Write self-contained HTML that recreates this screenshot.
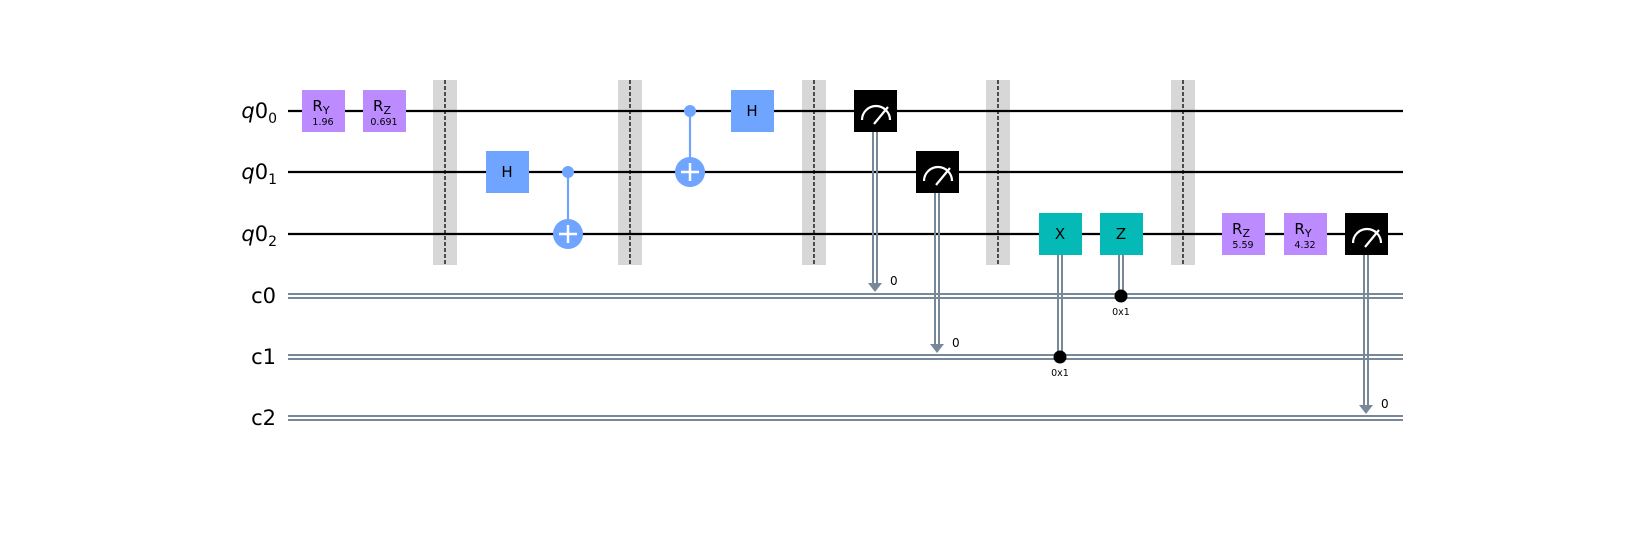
<!DOCTYPE html>
<html><head><meta charset="utf-8"><style>body{margin:0;background:#fff}svg{display:block}</style></head><body>
<svg width="1643" height="535" viewBox="0 0 1643 535" xmlns="http://www.w3.org/2000/svg" font-family="'DejaVu Sans','Liberation Sans',sans-serif">
<rect width="1643" height="535" fill="#fff"/>
<!-- barriers bg -->
<g fill="#d7d7d7">
<rect x="433" y="80" width="24" height="185"/><rect x="618" y="80" width="24" height="185"/>
<rect x="802" y="80" width="24" height="185"/><rect x="986" y="80" width="24" height="185"/>
<rect x="1171" y="80" width="24" height="185"/>
</g>
<!-- quantum wires -->
<g stroke="#000" stroke-width="2.2">
<line x1="288" y1="111" x2="1403" y2="111"/><line x1="288" y1="172" x2="1403" y2="172"/><line x1="288" y1="234" x2="1403" y2="234"/>
</g>
<!-- classical wires -->
<g stroke="#778899" stroke-width="2">
<line x1="288" y1="294" x2="1403" y2="294"/><line x1="288" y1="298" x2="1403" y2="298"/>
<line x1="288" y1="355" x2="1403" y2="355"/><line x1="288" y1="359" x2="1403" y2="359"/>
<line x1="288" y1="416" x2="1403" y2="416"/><line x1="288" y1="420" x2="1403" y2="420"/>
</g>
<!-- barrier dashes -->
<g stroke="#000" stroke-width="1.3" stroke-dasharray="4,2">
<line x1="445" y1="80" x2="445" y2="265"/><line x1="630" y1="80" x2="630" y2="265"/>
<line x1="814" y1="80" x2="814" y2="265"/><line x1="998" y1="80" x2="998" y2="265"/>
<line x1="1183" y1="80" x2="1183" y2="265"/>
</g>
<!-- labels -->
<g font-size="21" text-anchor="end" fill="#000">
<text x="277" y="118"><tspan font-style="italic">q</tspan>0<tspan font-size="14" dy="5">0</tspan></text>
<text x="277" y="179"><tspan font-style="italic">q</tspan>0<tspan font-size="14" dy="5">1</tspan></text>
<text x="277" y="241"><tspan font-style="italic">q</tspan>0<tspan font-size="14" dy="5">2</tspan></text>
<text x="276" y="303">c0</text><text x="276" y="364">c1</text><text x="276" y="425">c2</text>
</g>
<!-- rotation gates -->
<g fill="#bb8bff">
<rect x="302" y="90" width="43" height="42"/><rect x="363" y="90" width="43" height="42"/>
<rect x="1222" y="213" width="43" height="42"/><rect x="1284" y="213" width="43" height="42"/>
</g>
<g font-size="15" text-anchor="middle" fill="#000">
<text x="321" y="111">R<tspan font-size="11" dy="3">Y</tspan></text>
<text x="382" y="111">R<tspan font-size="11" dy="3">Z</tspan></text>
<text x="1241" y="234">R<tspan font-size="11" dy="3">Z</tspan></text>
<text x="1303" y="234">R<tspan font-size="11" dy="3">Y</tspan></text>
</g>
<g font-size="9.5" text-anchor="middle" fill="#000">
<text x="323" y="125">1.96</text><text x="384" y="125">0.691</text>
<text x="1243" y="248">5.59</text><text x="1305" y="248">4.32</text>
</g>
<!-- H gates -->
<rect x="486" y="151" width="43" height="42" fill="#6fa4ff"/>
<rect x="731" y="90" width="43" height="42" fill="#6fa4ff"/>
<g font-size="15" text-anchor="middle" fill="#000">
<text x="507" y="177">H</text><text x="752" y="116">H</text>
</g>
<!-- CX -->
<g stroke="#6fa4ff" stroke-width="2.2"><line x1="568" y1="172" x2="568" y2="234"/><line x1="690" y1="111" x2="690" y2="172"/></g>
<g fill="#6fa4ff"><circle cx="568" cy="172" r="6"/><circle cx="568" cy="234" r="15"/><circle cx="690" cy="111" r="6"/><circle cx="690" cy="172" r="15"/></g>
<g stroke="#fff" stroke-width="2.5"><line x1="559" y1="234" x2="577" y2="234"/><line x1="568" y1="225" x2="568" y2="243"/><line x1="681" y1="172" x2="699" y2="172"/><line x1="690" y1="163" x2="690" y2="181"/></g>
<!-- measure lines -->
<g stroke="#778899" stroke-width="2">
<line x1="873" y1="130" x2="873" y2="284"/><line x1="877" y1="130" x2="877" y2="284"/>
<line x1="935" y1="192" x2="935" y2="345"/><line x1="939" y1="192" x2="939" y2="345"/>
<line x1="1364" y1="253" x2="1364" y2="406"/><line x1="1368" y1="253" x2="1368" y2="406"/>
<line x1="1058" y1="253" x2="1058" y2="357"/><line x1="1062" y1="253" x2="1062" y2="357"/>
<line x1="1119" y1="253" x2="1119" y2="296"/><line x1="1123" y1="253" x2="1123" y2="296"/>
</g>
<g fill="#778899">
<polygon points="868,283 882,283 875,292"/><polygon points="930,344 944,344 937,353"/><polygon points="1359,405 1373,405 1366,414"/>
</g>
<g font-size="12" fill="#000"><text x="890" y="285">0</text><text x="952" y="347">0</text><text x="1381" y="408">0</text></g>
<!-- measure boxes -->
<g>
<rect x="854" y="90" width="43" height="42" fill="#000"/>
<rect x="916" y="151" width="43" height="42" fill="#000"/>
<rect x="1345" y="213" width="43" height="42" fill="#000"/>
</g>
<g stroke="#fff" stroke-width="2.2" fill="none">
<path d="M862,120 A14,14 0 0 1 890,120"/><line x1="874" y1="124" x2="888" y2="107"/>
<path d="M924,181 A14,14 0 0 1 952,181"/><line x1="936" y1="185" x2="950" y2="168"/>
<path d="M1353,243 A14,14 0 0 1 1381,243"/><line x1="1365" y1="247" x2="1379" y2="230"/>
</g>
<!-- X Z -->
<rect x="1039" y="213" width="43" height="42" fill="#05bab6"/>
<rect x="1100" y="213" width="43" height="42" fill="#05bab6"/>
<g font-size="15" text-anchor="middle" fill="#000"><text x="1060" y="239">X</text><text x="1121" y="239">Z</text></g>
<circle cx="1060" cy="357" r="6.5" fill="#000"/><circle cx="1121" cy="296" r="6.5" fill="#000"/>
<g font-size="9.5" text-anchor="middle" fill="#000"><text x="1060" y="376">0x1</text><text x="1121" y="315">0x1</text></g>
</svg>
</body></html>
